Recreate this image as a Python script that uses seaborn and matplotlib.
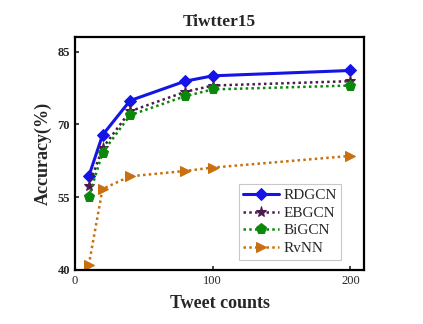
import matplotlib
matplotlib.use("Agg")
import matplotlib.pyplot as plt
import seaborn as sns
import pandas as pd

sns.set_style("ticks")
plt.rcParams['font.family'] = ['Liberation Serif', 'DejaVu Serif']

tweet_counts = [10, 20, 40, 80, 100, 200]
rdgcn = [59.3, 67.8, 74.9, 78.9, 80.0, 81.1]
ebgcn = [57.3, 65.1, 72.7, 76.7, 78.0, 78.9]
bigcn = [55.0, 64.2, 71.9, 75.8, 77.2, 78.0]
rvnn = [41.0, 56.7, 59.3, 60.4, 61.1, 63.5]
models = ["RDGCN", "EBGCN", "BiGCN", "RvNN"]
x_ticks = [0, 100, 200]
y_ticks = [40, 55, 70, 85]

rows = []
for name, vals in zip(models, [rdgcn, ebgcn, bigcn, rvnn]):
    for x, v in zip(tweet_counts, vals):
        rows.append({"Tweet counts": x, "Accuracy": v, "Model": name})
df = pd.DataFrame(rows)

colors = {"RDGCN": "#1414e6", "EBGCN": "#4d1a4d", "BiGCN": "#0a880a", "RvNN": "#c8700f"}
markers = {"RDGCN": "D", "EBGCN": "*", "BiGCN": "p", "RvNN": ">"}
msizes = {"RDGCN": 6, "EBGCN": 8, "BiGCN": 8, "RvNN": 7}
dotted = (0, (1, 1.3))
styles = {"RDGCN": "-", "EBGCN": dotted, "BiGCN": dotted, "RvNN": dotted}
widths = {"RDGCN": 2.2, "EBGCN": 1.8, "BiGCN": 1.8, "RvNN": 1.8}

fig = plt.figure(figsize=(4.23, 3.24), dpi=100)
ax = fig.add_axes([0.1773, 0.1667, 0.6837, 0.7191])

for name in models:
    sub = df[df["Model"] == name]
    sns.lineplot(data=sub, x="Tweet counts", y="Accuracy", ax=ax, color=colors[name],
                 marker=markers[name], markersize=msizes[name], linestyle=styles[name],
                 linewidth=widths[name], markeredgecolor=colors[name], label=name)

ax.set_xlim(0, 210)
ax.set_ylim(40, 88)
ax.set_xticks(x_ticks)
ax.set_yticks(y_ticks)
ax.tick_params(direction="in", length=3, width=1.2, labelsize=9)
for lbl in ax.get_yticklabels():
    lbl.set_fontweight("bold")
for s in ax.spines.values():
    s.set_linewidth(1.6)
    s.set_color("black")
ax.set_xlabel("Tweet counts", fontsize=13, fontweight="bold", labelpad=6)
ax.set_ylabel("Accuracy(%)", fontsize=13, fontweight="bold", labelpad=4)
ax.set_title("Tiwtter15", fontsize=12.5, fontweight="bold", pad=8)

leg = ax.legend(loc="lower right", bbox_to_anchor=(0.92, 0.045), fontsize=11,
                frameon=True, fancybox=False, edgecolor="#bbbbbb", handlelength=2.35,
                borderpad=0.3, labelspacing=0.25, handletextpad=0.25, borderaxespad=0)
leg.get_frame().set_linewidth(0.8)

fig.savefig("out.png", dpi=100)
